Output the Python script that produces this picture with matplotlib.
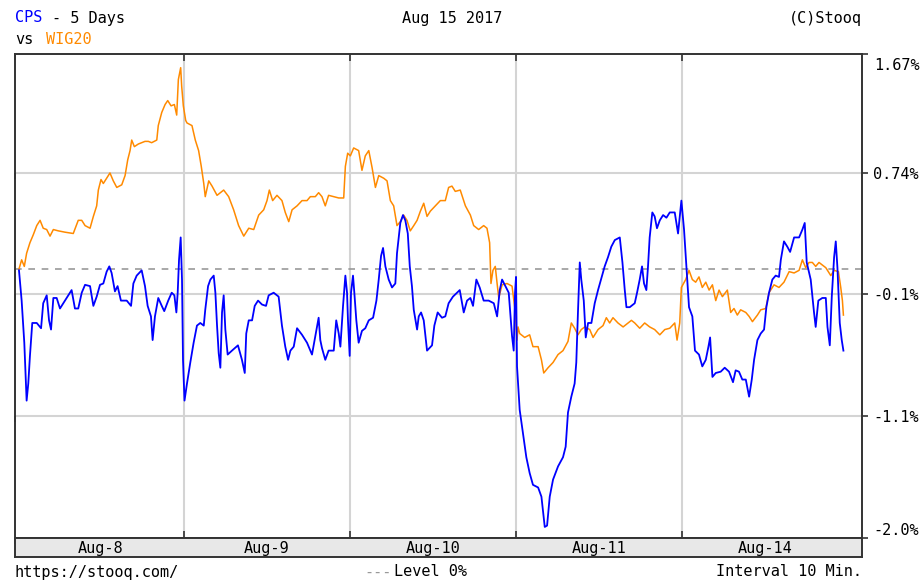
import matplotlib.pyplot as plt
from matplotlib.ticker import FixedLocator

# time axis: trading session index + fraction of session (Aug-8 .. Aug-14)
DAYS = ["Aug-8", "Aug-9", "Aug-10", "Aug-11", "Aug-14"]

# WIG20, % change vs. start
wig_t = [0.006, 0.022, 0.038, 0.052, 0.072, 0.092, 0.113, 0.133, 0.152, 0.173, 0.193, 0.213, 0.243, 0.283,
         0.333, 0.363, 0.384, 0.404, 0.434, 0.454, 0.474, 0.484, 0.500, 0.514, 0.554, 0.574, 0.595, 0.625,
         0.645, 0.661, 0.675, 0.685, 0.701, 0.725, 0.765, 0.785, 0.805, 0.836, 0.845, 0.866, 0.886, 0.902,
         0.922, 0.942, 0.956, 0.966, 0.980, 0.986, 0.996, 1.010, 1.018, 1.048, 1.068, 1.088, 1.104, 1.119,
         1.128, 1.149, 1.169, 1.199, 1.239, 1.269, 1.299, 1.329, 1.360, 1.390, 1.420, 1.450, 1.480, 1.500,
         1.514, 1.534, 1.560, 1.590, 1.610, 1.631, 1.651, 1.681, 1.711, 1.741, 1.761, 1.791, 1.811, 1.831,
         1.851, 1.871, 1.902, 1.932, 1.962, 1.972, 1.986, 2.002, 2.022, 2.052, 2.072, 2.092, 2.113, 2.133,
         2.153, 2.173, 2.203, 2.223, 2.243, 2.263, 2.283, 2.303, 2.323, 2.343, 2.363, 2.384, 2.404, 2.424,
         2.444, 2.464, 2.484, 2.514, 2.544, 2.574, 2.594, 2.614, 2.634, 2.664, 2.695, 2.725, 2.745, 2.775,
         2.805, 2.825, 2.841, 2.849, 2.861, 2.875, 2.886, 2.896, 2.916, 2.946, 2.976, 2.996, 3.006, 3.012,
         3.022, 3.052, 3.082, 3.102, 3.133, 3.153, 3.167, 3.193, 3.223, 3.253, 3.283, 3.313, 3.333, 3.353,
         3.373, 3.393, 3.414, 3.444, 3.464, 3.494, 3.524, 3.544, 3.564, 3.584, 3.614, 3.645, 3.675, 3.695,
         3.715, 3.745, 3.775, 3.805, 3.835, 3.866, 3.896, 3.926, 3.956, 3.970, 3.986, 3.996, 4.022, 4.042,
         4.062, 4.082, 4.102, 4.122, 4.143, 4.163, 4.183, 4.203, 4.223, 4.243, 4.273, 4.293, 4.313, 4.333,
         4.353, 4.384, 4.404, 4.424, 4.454, 4.474, 4.504, 4.524, 4.554, 4.584, 4.614, 4.645, 4.675, 4.705,
         4.725, 4.745, 4.765, 4.785, 4.805, 4.825, 4.845, 4.866, 4.896, 4.916, 4.942, 4.956, 4.966, 4.972]
wig_v = [0.00, 0.07, 0.02, 0.12, 0.20, 0.26, 0.33, 0.37, 0.31, 0.30, 0.25, 0.30, 0.29, 0.28,
         0.27, 0.37, 0.37, 0.33, 0.31, 0.40, 0.48, 0.60, 0.68, 0.65, 0.73, 0.67, 0.62, 0.64,
         0.71, 0.83, 0.90, 0.98, 0.93, 0.95, 0.97, 0.97, 0.96, 0.98, 1.09, 1.19, 1.25, 1.28,
         1.24, 1.25, 1.17, 1.44, 1.53, 1.39, 1.24, 1.13, 1.11, 1.09, 0.98, 0.90, 0.78, 0.65,
         0.55, 0.67, 0.63, 0.56, 0.60, 0.55, 0.45, 0.33, 0.25, 0.31, 0.30, 0.41, 0.45, 0.52,
         0.60, 0.52, 0.56, 0.52, 0.43, 0.36, 0.45, 0.48, 0.52, 0.52, 0.55, 0.55, 0.58, 0.55,
         0.48, 0.56, 0.55, 0.54, 0.54, 0.78, 0.88, 0.86, 0.92, 0.90, 0.75, 0.86, 0.90, 0.77,
         0.62, 0.71, 0.69, 0.67, 0.52, 0.48, 0.33, 0.36, 0.41, 0.37, 0.29, 0.33, 0.37, 0.44,
         0.50, 0.40, 0.44, 0.48, 0.52, 0.52, 0.62, 0.63, 0.59, 0.60, 0.48, 0.41, 0.33, 0.30,
         0.33, 0.31, 0.20, -0.11, -0.01, 0.02, -0.11, -0.22, -0.12, -0.11, -0.13, -0.33, -0.54, -0.44,
         -0.49, -0.52, -0.50, -0.59, -0.59, -0.69, -0.79, -0.75, -0.71, -0.65, -0.62, -0.55, -0.41, -0.45,
         -0.50, -0.46, -0.44, -0.46, -0.52, -0.46, -0.43, -0.37, -0.41, -0.37, -0.41, -0.44, -0.41, -0.39,
         -0.41, -0.45, -0.41, -0.44, -0.46, -0.50, -0.46, -0.45, -0.41, -0.54, -0.41, -0.14, -0.08, -0.01,
         -0.08, -0.10, -0.06, -0.14, -0.10, -0.16, -0.12, -0.24, -0.16, -0.21, -0.16, -0.33, -0.30, -0.35,
         -0.31, -0.33, -0.36, -0.40, -0.35, -0.31, -0.30, -0.18, -0.12, -0.14, -0.10, -0.02, -0.03, -0.01,
         0.07, 0.01, 0.05, 0.05, 0.02, 0.05, 0.03, 0.01, -0.05, -0.01, -0.02, -0.14, -0.24, -0.35]

# CPS, % change vs. start
cps_t = [0.006, 0.022, 0.038, 0.052, 0.062, 0.072, 0.086, 0.113, 0.139, 0.152, 0.173, 0.187, 0.199, 0.213,
         0.233, 0.253, 0.283, 0.303, 0.323, 0.343, 0.363, 0.384, 0.404, 0.434, 0.454, 0.474, 0.494, 0.514,
         0.534, 0.550, 0.564, 0.584, 0.600, 0.620, 0.655, 0.681, 0.695, 0.715, 0.745, 0.765, 0.781, 0.801,
         0.811, 0.825, 0.845, 0.866, 0.881, 0.905, 0.926, 0.942, 0.954, 0.962, 0.970, 0.980, 0.988, 0.994,
         1.003, 1.018, 1.038, 1.058, 1.078, 1.098, 1.119, 1.128, 1.145, 1.159, 1.179, 1.189, 1.199, 1.209,
         1.219, 1.229, 1.239, 1.249, 1.263, 1.289, 1.325, 1.349, 1.366, 1.375, 1.390, 1.410, 1.426, 1.446,
         1.470, 1.494, 1.510, 1.540, 1.570, 1.590, 1.610, 1.627, 1.641, 1.661, 1.681, 1.711, 1.741, 1.771,
         1.791, 1.811, 1.821, 1.831, 1.851, 1.871, 1.902, 1.917, 1.932, 1.942, 1.958, 1.972, 1.982, 1.988,
         1.998, 2.006, 2.018, 2.026, 2.038, 2.052, 2.072, 2.092, 2.113, 2.139, 2.159, 2.173, 2.187, 2.199,
         2.213, 2.233, 2.253, 2.273, 2.283, 2.303, 2.319, 2.333, 2.348, 2.360, 2.373, 2.384, 2.404, 2.414,
         2.428, 2.444, 2.464, 2.494, 2.508, 2.528, 2.554, 2.574, 2.594, 2.620, 2.645, 2.661, 2.685, 2.705,
         2.725, 2.741, 2.761, 2.781, 2.805, 2.835, 2.866, 2.886, 2.902, 2.916, 2.936, 2.956, 2.976, 2.986,
         2.994, 3.000, 3.006, 3.022, 3.042, 3.062, 3.082, 3.102, 3.133, 3.153, 3.173, 3.187, 3.203, 3.223,
         3.253, 3.283, 3.299, 3.313, 3.333, 3.353, 3.363, 3.373, 3.384, 3.393, 3.408, 3.420, 3.434, 3.454,
         3.474, 3.494, 3.514, 3.534, 3.554, 3.574, 3.595, 3.625, 3.641, 3.655, 3.665, 3.685, 3.715, 3.729,
         3.745, 3.759, 3.771, 3.785, 3.795, 3.805, 3.821, 3.835, 3.849, 3.866, 3.886, 3.906, 3.926, 3.956,
         3.976, 3.996, 4.012, 4.026, 4.042, 4.062, 4.078, 4.102, 4.122, 4.143, 4.159, 4.169, 4.183, 4.203,
         4.233, 4.257, 4.283, 4.307, 4.323, 4.343, 4.363, 4.384, 4.404, 4.420, 4.434, 4.454, 4.474, 4.494,
         4.508, 4.524, 4.544, 4.564, 4.584, 4.595, 4.614, 4.634, 4.651, 4.675, 4.705, 4.725, 4.739, 4.751,
         4.775, 4.795, 4.805, 4.821, 4.845, 4.866, 4.876, 4.890, 4.902, 4.916, 4.926, 4.936, 4.950, 4.962,
         4.972]
cps_v = [-0.01, -0.24, -0.56, -1.00, -0.87, -0.66, -0.41, -0.41, -0.45, -0.26, -0.20, -0.39, -0.46, -0.22,
         -0.22, -0.30, -0.24, -0.20, -0.16, -0.30, -0.30, -0.18, -0.12, -0.13, -0.28, -0.21, -0.12, -0.11,
         -0.02, 0.02, -0.03, -0.17, -0.13, -0.24, -0.24, -0.28, -0.11, -0.05, -0.01, -0.13, -0.28, -0.36,
         -0.54, -0.36, -0.22, -0.28, -0.32, -0.24, -0.18, -0.20, -0.33, -0.18, 0.07, 0.24, -0.08, -0.69,
         -1.00, -0.87, -0.71, -0.56, -0.43, -0.41, -0.43, -0.31, -0.13, -0.08, -0.05, -0.18, -0.43, -0.64,
         -0.75, -0.33, -0.20, -0.46, -0.65, -0.62, -0.58, -0.69, -0.79, -0.49, -0.39, -0.39, -0.28, -0.24,
         -0.27, -0.28, -0.20, -0.18, -0.21, -0.43, -0.59, -0.69, -0.62, -0.59, -0.45, -0.50, -0.56, -0.65,
         -0.51, -0.37, -0.54, -0.60, -0.69, -0.62, -0.62, -0.39, -0.49, -0.59, -0.28, -0.05, -0.18, -0.40,
         -0.66, -0.18, -0.05, -0.18, -0.39, -0.56, -0.47, -0.45, -0.39, -0.37, -0.24, -0.08, 0.10, 0.16,
         0.02, -0.08, -0.14, -0.11, 0.12, 0.35, 0.41, 0.37, 0.27, 0.02, -0.13, -0.31, -0.46, -0.36,
         -0.33, -0.39, -0.62, -0.58, -0.43, -0.33, -0.37, -0.36, -0.26, -0.21, -0.18, -0.16, -0.33, -0.24,
         -0.22, -0.28, -0.08, -0.14, -0.24, -0.24, -0.26, -0.36, -0.16, -0.08, -0.13, -0.18, -0.51, -0.62,
         -0.18, -0.06, -0.74, -1.07, -1.25, -1.43, -1.55, -1.64, -1.66, -1.73, -1.96, -1.95, -1.73, -1.60,
         -1.50, -1.43, -1.35, -1.09, -0.97, -0.87, -0.71, -0.33, 0.05, -0.08, -0.24, -0.52, -0.41, -0.41,
         -0.26, -0.16, -0.07, 0.02, 0.09, 0.17, 0.22, 0.24, 0.05, -0.16, -0.29, -0.29, -0.26, -0.18,
         -0.08, 0.02, -0.11, -0.16, 0.02, 0.24, 0.43, 0.40, 0.31, 0.37, 0.41, 0.39, 0.43, 0.43,
         0.27, 0.52, 0.30, 0.02, -0.29, -0.36, -0.62, -0.65, -0.74, -0.69, -0.59, -0.52, -0.82, -0.79,
         -0.78, -0.75, -0.78, -0.86, -0.77, -0.78, -0.84, -0.84, -0.97, -0.84, -0.69, -0.54, -0.49, -0.46,
         -0.29, -0.18, -0.08, -0.05, -0.06, 0.07, 0.21, 0.17, 0.13, 0.24, 0.24, 0.30, 0.35, 0.05,
         -0.08, -0.33, -0.44, -0.24, -0.22, -0.22, -0.44, -0.58, -0.21, 0.09, 0.21, 0.01, -0.41, -0.54,
         -0.62]

# right-hand scale: grid positions and the labels printed next to them
y_top, y_bottom = 1.634, -2.044
grid_vals = [0.73, -0.19, -1.12]
tick_vals = [y_top, 0.73, -0.19, -1.12, y_bottom]
tick_labels = ["1.67%", "0.74%", "-0.1%", "-1.1%", "-2.0%"]

BLUE = "#0000ff"
ORANGE = "#ff8a00"
GRID = "#d4d4d4"
FONT = "DejaVu Sans Mono"
FS = 11

plt.rcParams["font.family"] = FONT

fig = plt.figure(figsize=(9.23, 5.83), dpi=100)
W, H = 923, 583
left, right, top, bottom = 15, 862, 54, 538
ax = fig.add_axes([left / W, 1 - bottom / H, (right - left) / W, (bottom - top) / H])

ax.set_xlim(-0.018, 5.084)
ax.set_ylim(y_bottom, y_top)

for d in range(1, len(DAYS)):
    ax.axvline(d, color=GRID, lw=1.5, zorder=1)
for g in grid_vals:
    ax.axhline(g, color=GRID, lw=1.5, zorder=1)
ax.axhline(0, color="#999999", lw=1.2, ls=(0, (4, 4)), zorder=2)

ax.plot(wig_t, wig_v, color=ORANGE, lw=1.1, zorder=3)
ax.plot(cps_t, cps_v, color=BLUE, lw=1.3, zorder=4)

for s in ax.spines.values():
    s.set_color("#333333")
    s.set_linewidth(1.4)

ax.xaxis.set_major_locator(FixedLocator(range(1, len(DAYS))))
ax.tick_params(axis="x", which="both", direction="in", length=5, width=1.2, color="#333333",
               top=True, bottom=True, labelbottom=False)
ax.yaxis.tick_right()
ax.set_yticks(tick_vals)
# the top label sits a bit below the frame, so it is drawn separately
ax.set_yticklabels([""] + tick_labels[1:])
ax.tick_params(axis="y", direction="out", length=4, width=1.2, color="#333333",
               labelsize=FS, pad=4, left=True, right=True, labelleft=False)
ax.get_yticklabels()[-1].set_va("bottom")
fig.text(874 / W, 1 - 66 / H, tick_labels[0], fontsize=FS, va="center")
# left ticks point inward
for tl in ax.yaxis.get_major_ticks():
    tl.tick1line.set_marker(3)
    tl.tick1line.set_markersize(4)

# date band under the plot
band = fig.add_axes([left / W, 1 - 557 / H, (right - left) / W, 19 / H])
band.set_facecolor("#e8e8e8")
band.set_xlim(ax.get_xlim())
band.set_ylim(0, 1)
band.set_xticks([])
band.set_yticks([])
for s in band.spines.values():
    s.set_color("#333333")
    s.set_linewidth(1.4)
for i, day in enumerate(DAYS):
    band.text(i + 0.5, 0.45, day, ha="center", va="center", fontsize=FS)

# header
fig.text(15 / W, 1 - 18 / H, "CPS", color=BLUE, fontsize=FS, va="center")
fig.text(52 / W, 1 - 18 / H, "- 5 Days", color="black", fontsize=FS, va="center")
fig.text(15 / W, 1 - 40 / H, "vs", color="black", fontsize=FS, va="center")
fig.text(46 / W, 1 - 40 / H, "WIG20", color=ORANGE, fontsize=FS, va="center")
fig.text(452 / W, 1 - 18 / H, "Aug 15 2017", fontsize=FS, ha="center", va="center")
fig.text(862 / W, 1 - 18 / H, "(C)Stooq", fontsize=FS, ha="right", va="center")

# footer
fig.text(15 / W, 1 - 572 / H, "https://stooq.com/", fontsize=FS, va="center")
fig.text(364 / W, 1 - 572 / H, "---", color="#999999", fontsize=FS, va="center")
fig.text(394 / W, 1 - 572 / H, "Level 0%", fontsize=FS, va="center")
fig.text(862 / W, 1 - 572 / H, "Interval 10 Min.", fontsize=FS, ha="right", va="center")

fig.savefig("out.png", dpi=100)
